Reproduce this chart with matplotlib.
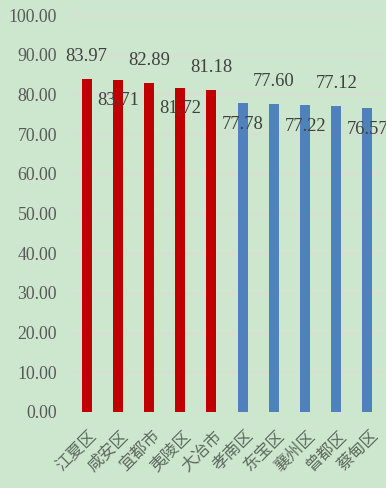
import matplotlib
matplotlib.use("Agg")
import matplotlib.pyplot as plt

categories = ["江夏区", "咸安区", "宜都市", "夷陵区", "大冶市", "孝南区", "东宝区", "襄州区", "曾都区", "蔡甸区"]
values = [83.97, 83.71, 82.89, 81.72, 81.18, 77.78, 77.60, 77.22, 77.12, 76.57]
groups = ["top", "top", "top", "top", "top", "other", "other", "other", "other", "other"]
yticks = [0, 10, 20, 30, 40, 50, 60, 70, 80, 90, 100]

bg = "#cce7cd"
colors = {"top": "#c00000", "other": "#4f81bd"}

fig = plt.figure(figsize=(3.86, 4.88), dpi=100)
fig.patch.set_facecolor(bg)
ax = fig.add_axes([71/386, 76/488, 312/386, 397/488])
ax.set_facecolor(bg)

x = list(range(len(categories)))
ax.bar(x, values, width=0.32, color=[colors[g] for g in groups], zorder=3)

for i, v in enumerate(values):
    off = 22 if i % 2 == 0 else -21
    ax.annotate(f"{v:.2f}", (i, v), xytext=(0, off), textcoords="offset pixels",
                ha="center", va="center", fontsize=13.3, family="Liberation Serif",
                color="#404040", zorder=4, annotation_clip=False)

ax.set_ylim(0, 100)
ax.set_xlim(-0.5, len(categories) - 0.5)
ax.set_yticks(yticks)
ax.set_yticklabels([f"{t:.2f}" for t in yticks], family="Liberation Serif",
                   fontsize=12.8, color="#595959")
ax.tick_params(axis="y", length=0, pad=10)
ax.tick_params(axis="x", length=0, pad=11)
ax.set_xticks(x)
ax.set_xticklabels(categories, rotation=45, ha="right", rotation_mode="anchor",
                   family=["Noto Sans CJK SC", "DejaVu Sans"], fontsize=12, color="#5f6a60",
                   fontweight="light")
for lab in ax.get_xticklabels():
    lab.set_transform(lab.get_transform() + matplotlib.transforms.ScaledTranslation(2/100, 0, fig.dpi_scale_trans))
ax.grid(axis="y", color="#dcdcd4", linewidth=1, zorder=0)
for s in ax.spines.values():
    s.set_visible(False)

fig.savefig("out.png", dpi=100, facecolor=bg)
